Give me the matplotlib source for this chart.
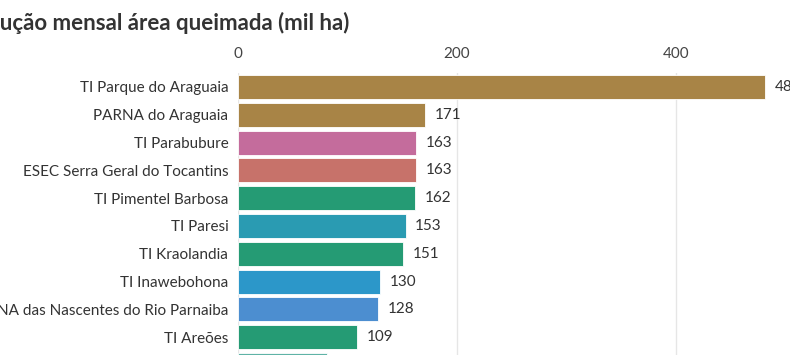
import matplotlib.pyplot as plt

plt.rcParams['font.family'] = ['Lato', 'DejaVu Sans']

names = ['TI Parque do Araguaia', 'PARNA do Araguaia', 'TI Parabubure',
         'ESEC Serra Geral do Tocantins', 'TI Pimentel Barbosa', 'TI Paresi',
         'TI Kraolandia', 'TI Inawebohona', 'PARNA das Nascentes do Rio Parnaiba',
         'TI Areões', 'TI Marãiwatsédé']
values = [481, 171, 163, 163, 162, 153, 151, 130, 128, 109, 81]
colors = ['#a88446', '#a88446', '#c46c9c', '#c7726a', '#259b74', '#2a9bb2',
          '#259b74', '#2c97c9', '#4c8ed0', '#259b74', '#5fb3a6']

W, H = 790, 355
fig = plt.figure(figsize=(W / 100, H / 100), dpi=100)

# pixel geometry of the plot area (part of it runs off the canvas)
x0 = 238
px_per_unit = 219 / 200
xmax = 540
row = 27.8
top = 87 - 0.5 * row
bottom = 87 + 10.5 * row
ax = fig.add_axes([x0 / W, (H - bottom) / H, xmax * px_per_unit / W, (bottom - top) / H])

y = list(range(len(values)))
ax.barh(y, values, height=0.86, color=colors, zorder=2, edgecolor='white', linewidth=0.6)
for yi, v in zip(y, values):
    ax.annotate(str(v), (v, yi), xytext=(7, 0), textcoords='offset points',
                va='center', ha='left', fontsize=11, color='#333333', clip_on=False)

ax.set_xlim(0, xmax)
ax.set_ylim(len(values) - 0.5, -0.5)
ax.set_yticks(y)
ax.set_yticklabels(names, fontsize=11, color='#333333')
ax.set_xticks([0, 200, 400])
ax.xaxis.tick_top()
ax.tick_params(axis='x', length=0, pad=9, labelsize=11, labelcolor='#444444')
ax.tick_params(axis='y', length=0, pad=7)
ax.grid(axis='x', color='#e6e6e6', linewidth=1, zorder=0)
for s in ax.spines.values():
    s.set_visible(False)

# title runs off the left edge, as in the cropped original
title_kw = dict(va='center', fontsize=16, fontweight='bold', color='#333333')
probe = fig.text(0, 0, 'Evol', **title_kw)
r = fig.canvas.get_renderer()
w_cut = probe.get_window_extent(renderer=r).width
probe.remove()
fig.text(-w_cut / W, 1 - 23 / H, 'Evolução mensal área queimada (mil ha)', ha='left', **title_kw)

fig.savefig('out.png', dpi=100)
